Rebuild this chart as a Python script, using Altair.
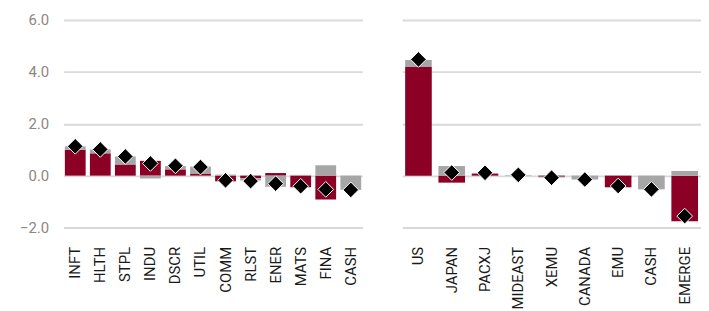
import altair as alt
import pandas as pd

sectors = ["INFT", "HLTH", "STPL", "INDU", "DSCR", "UTIL", "COMM", "RLST", "ENER", "MATS", "FINA", "CASH"]
sector_red = [1.00, 0.86, 0.43, 0.57, 0.24, 0.08, -0.22, -0.10, 0.10, -0.45, -0.92, 0.0]
sector_gray = [0.13, 0.15, 0.31, -0.11, 0.13, 0.27, 0.04, -0.09, -0.43, 0.03, 0.40, -0.55]
sector_total = [1.13, 1.01, 0.74, 0.47, 0.38, 0.33, -0.18, -0.21, -0.31, -0.41, -0.53, -0.55]

regions = ["US", "JAPAN", "PACXJ", "MIDEAST", "XEMU", "CANADA", "EMU", "CASH", "EMERGE"]
region_red = [4.19, -0.27, 0.08, 0.0, -0.04, 0.0, -0.45, 0.0, -1.76]
region_gray = [0.27, 0.37, 0.0, 0.02, -0.03, -0.15, 0.0, -0.53, 0.18]
region_total = [4.48, 0.12, 0.11, 0.03, -0.08, -0.15, -0.40, -0.53, -1.56]

y_ticks = [-2, 0, 2, 4, 6]

RED = "#8c0026"
GRAY = "#a6a6a6"
FONT = "Roboto"


def bars_df(cats, red, gray):
    rows = []
    for c, r, g in zip(cats, red, gray):
        rows.append({"cat": c, "series": "a", "order": 0, "value": r})
        rows.append({"cat": c, "series": "b", "order": 1, "value": g})
    return pd.DataFrame(rows)


def panel(cats, red, gray, total, show_labels, pad_inner, pad_outer):
    bdf = bars_df(cats, red, gray)
    pdf = pd.DataFrame({"cat": cats, "total": total})
    xscale = alt.Scale(paddingInner=pad_inner, paddingOuter=pad_outer)
    xaxis = alt.Axis(
        labelAngle=-90,
        labelAlign="right",
        labelBaseline="middle",
        labelPadding=19,
        labelFont=FONT,
        labelFontSize=15,
        labelColor="#1a1a1a",
        domain=False,
        ticks=False,
        grid=False,
    )
    yscale = alt.Scale(domain=[-2, 6], nice=False, zero=False)
    yaxis = alt.Axis(
        values=y_ticks,
        format=".1f",
        labels=show_labels,
        labelFont=FONT,
        labelFontSize=15,
        labelColor="#8c8783",
        labelPadding=15,
        domain=False,
        ticks=False,
        grid=True,
        gridColor="#d9d9d9",
        gridWidth=2,
    )
    bars = alt.Chart(bdf).mark_bar().encode(
        x=alt.X("cat:N", sort=cats, title=None, scale=xscale, axis=xaxis),
        y=alt.Y("value:Q", stack="zero", scale=yscale, axis=yaxis, title=None),
        color=alt.Color("series:N", scale=alt.Scale(domain=["a", "b"], range=[RED, GRAY]), legend=None),
        order=alt.Order("order:Q"),
    )
    pts = alt.Chart(pdf).mark_point(
        shape="diamond", filled=True, color="black", stroke="white", strokeWidth=1, size=250, opacity=1
    ).encode(
        x=alt.X("cat:N", sort=cats, title=None, axis=xaxis),
        y=alt.Y("total:Q", scale=yscale, title=None, axis=yaxis),
    )
    return alt.layer(bars, pts).properties(width=301, height=209)


left = panel(sectors, sector_red, sector_gray, sector_total, True, 0.17, 0.05)
right = panel(regions, region_red, region_gray, region_total, False, 0.2, 0.09)

chart = alt.hconcat(left, right, spacing=40).properties(
    padding={"left": 11, "top": 4, "right": 0, "bottom": 0}
).configure(background="white").configure_view(stroke=None)

chart.save("out.html", embed_options={"renderer": "svg", "actions": False})
